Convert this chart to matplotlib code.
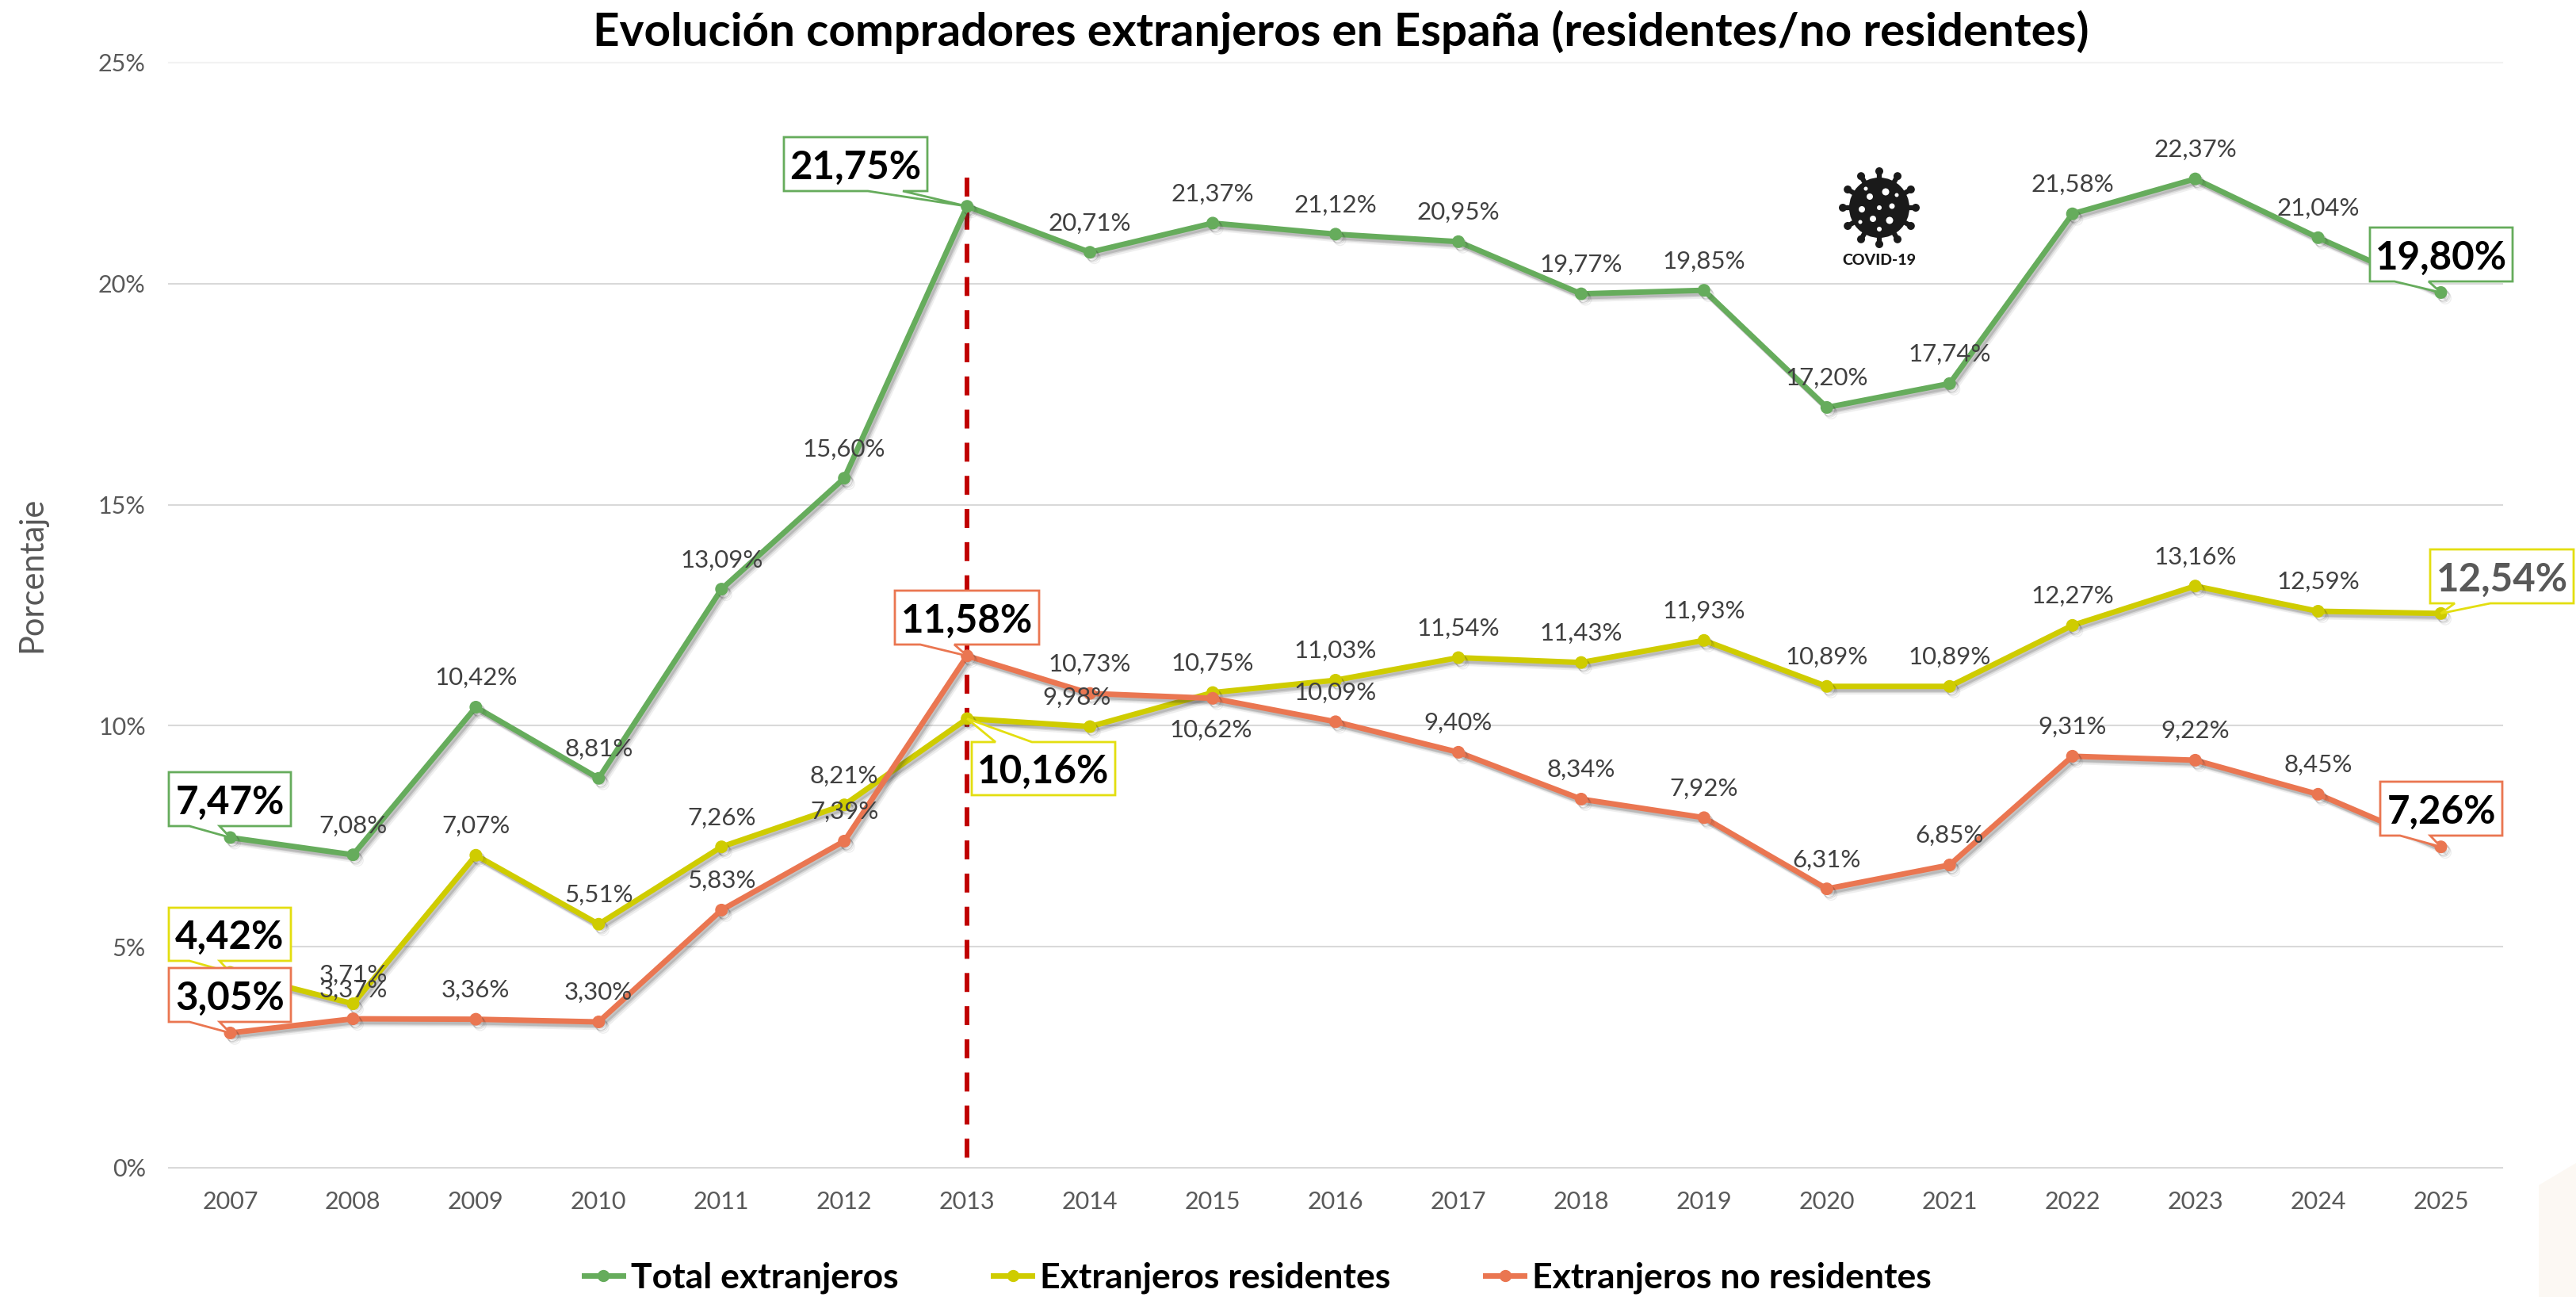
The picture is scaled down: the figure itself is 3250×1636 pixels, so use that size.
import numpy as np
import matplotlib
matplotlib.use("Agg")
from matplotlib import pyplot as plt
from matplotlib import patheffects as pe
from matplotlib.lines import Line2D
from matplotlib.patches import Polygon, Circle
from matplotlib.transforms import Affine2D

plt.rcParams['font.family'] = ['Lato', 'DejaVu Sans']

years = [2007, 2008, 2009, 2010, 2011, 2012, 2013, 2014, 2015, 2016,
         2017, 2018, 2019, 2020, 2021, 2022, 2023, 2024, 2025]
total = [7.47, 7.08, 10.42, 8.81, 13.09, 15.60, 21.75, 20.71, 21.37, 21.12,
         20.95, 19.77, 19.85, 17.20, 17.74, 21.58, 22.37, 21.04, 19.80]
residentes = [4.42, 3.71, 7.07, 5.51, 7.26, 8.21, 10.16, 9.98, 10.75, 11.03,
              11.54, 11.43, 11.93, 10.89, 10.89, 12.27, 13.16, 12.59, 12.54]
no_residentes = [3.05, 3.37, 3.36, 3.30, 5.83, 7.39, 11.58, 10.73, 10.62, 10.09,
                 9.40, 8.34, 7.92, 6.31, 6.85, 9.31, 9.22, 8.45, 7.26]
y_ticks = [0, 5, 10, 15, 20, 25]

VERDE = '#66AC5C'
AMARILLO = '#CFCC00'
NARANJA = '#EA7651'
BORDE_AM = '#E3DE10'
GRIS = '#595959'

W, H = 3250, 1636
fig = plt.figure(figsize=(W / 100, H / 100), dpi=100, facecolor='white')
ax = fig.add_axes([213 / W, 1 - 1473 / H, (3157 - 213) / W, (1473 - 79) / H])
ax.set_xlim(-0.5, 18.5)
ax.set_ylim(0, 25)
x = np.arange(len(years))

# coordenadas en pixeles con origen arriba a la izquierda
px = Affine2D().scale(1, -1).translate(0, H)

for s in ax.spines.values():
    s.set_visible(False)
ax.tick_params(length=0, labelsize=22, labelcolor=GRIS)
ax.tick_params(axis='y', pad=21)
ax.tick_params(axis='x', pad=21)
ax.set_xticks(x, [str(a) for a in years])
ax.set_yticks(y_ticks, [f'{v}%' for v in y_ticks])
for v in y_ticks:
    ax.axhline(v, color='#F2F2F2' if v == 25 else '#D9D9D9', lw=1.5, zorder=1, clip_on=False)

ax.plot([6, 6], [22.4, 0], color='#C00000', lw=4.3, dashes=(4, 3),
        dash_capstyle='butt', zorder=2)

# tres capas para imitar la sombra difuminada
sombra = [pe.SimpleLineShadow(offset=(2, -2.5), shadow_color='#333333', alpha=0.18),
          pe.SimpleLineShadow(offset=(3, -3.5), shadow_color='#333333', alpha=0.12),
          pe.SimpleLineShadow(offset=(4, -5), shadow_color='#333333', alpha=0.08),
          pe.Normal()]
series = [(total, VERDE), (residentes, AMARILLO), (no_residentes, NARANJA)]
for vals, col in series:
    ax.plot(x, vals, color=col, lw=5, marker='o', ms=10.5, mec=col, zorder=4,
            solid_joinstyle='round', path_effects=sombra)

# etiquetas normales, encima del punto salvo los casos raros
for vals, col in series:
    for i, v in enumerate(vals):
        if i in (0, 6, 18):
            continue
        dx, dy = 0, 26.5
        if vals is no_residentes and i == 8:
            dx, dy = -2, -29
        if vals is residentes and i == 7:
            dx = -12
        ax.annotate(f'{v:.2f}%'.replace('.', ','), (i, v), xytext=(dx, dy),
                    textcoords='offset points', ha='center', va='center',
                    fontsize=22.5, color='#404040', zorder=6)


def callout(vals, i, box, tail, col, txt_col='black'):
    tx, ty = ax.transData.transform((i, vals[i]))
    ty = H - ty
    l, t, r, b = box
    if ty > b:
        pts = [(l, t), (r, t), (r, b), (tail[1], b), (tx, ty), (tail[0], b), (l, b)]
    else:
        pts = [(l, t), (tail[0], t), (tx, ty), (tail[1], t), (r, t), (r, b), (l, b)]
    fig.add_artist(Polygon(pts, closed=True, fc='white', ec=col, lw=2, transform=px, zorder=5))
    fig.text((l + r) / 2 / W, 1 - ((t + b) / 2 + 4) / H, f'{vals[i]:.2f}%'.replace('.', ','),
             ha='center', va='center', fontsize=35.5, fontweight='bold', color=txt_col, zorder=6)


callout(total, 0, (213, 974, 367, 1042), (239, 277), VERDE)
callout(residentes, 0, (213, 1145, 367, 1212), (239, 277), BORDE_AM)
callout(no_residentes, 0, (213, 1221, 367, 1289), (239, 277), NARANJA)
callout(total, 6, (989, 173, 1170, 241), (1095, 1139), VERDE)
callout(no_residentes, 6, (1129, 745, 1311, 813), (1161, 1204), NARANJA)
callout(residentes, 6, (1226, 936, 1407, 1003), (1256, 1302), BORDE_AM)
callout(total, 18, (2990, 287, 3170, 355), (3021, 3064), VERDE)
callout(residentes, 18, (3066, 693, 3247, 761), (3097, 3142), BORDE_AM, GRIS)
callout(no_residentes, 18, (3003, 986, 3157, 1054), (3028, 3066), NARANJA)

# icono covid
cx, cy = 2371, 262
ICONO = '#1A1A1A'
for ang in np.linspace(0, 2 * np.pi, 12, endpoint=False):
    c, s = np.cos(ang + np.pi / 2), np.sin(ang + np.pi / 2)
    fig.add_artist(Line2D([cx + 30 * c, cx + 46 * c], [cy + 30 * s, cy + 46 * s], color=ICONO,
                          lw=4.5, transform=px, zorder=3))
    fig.add_artist(Circle((cx + 46 * c, cy + 46 * s), 5, fc=ICONO, ec='none', transform=px, zorder=3))
fig.add_artist(Circle((cx, cy), 38, fc=ICONO, ec='none', transform=px, zorder=3))
for ox, oy, r in [(0, 0, 3), (-12, -14, 4), (8, -20, 4.5), (-22, 2, 4), (16, -2, 3.5),
                  (-8, 14, 4), (13, 16, 4.5), (-17, -24, 2.5), (22, -16, 2.5), (0, 27, 3), (-24, 18, 2.5)]:
    fig.add_artist(Circle((cx + ox, cy + oy), r, fc='white', ec='none', transform=px, zorder=3))
fig.text(cx / W, 1 - 328 / H, 'COVID-19', ha='center', va='center', fontsize=14,
         fontweight='black', color=ICONO)

fig.text(1692 / W, 1 - 40 / H, 'Evolución compradores extranjeros en España (residentes/no residentes)',
         ha='center', va='center', fontsize=42, fontweight='bold', color='black')
fig.text(40 / W, 1 - 725 / H, 'Porcentaje', rotation=90, ha='center', va='center', fontsize=30, color=GRIS)

handles = [Line2D([], [], color=c, lw=5, marker='o', ms=10) for c in (VERDE, AMARILLO, NARANJA)]
fig.legend(handles, ['Total extranjeros', 'Extranjeros residentes', 'Extranjeros no residentes'],
           loc='center', bbox_to_anchor=(1587 / W, 1 - 1612 / H), ncol=3, frameon=False,
           prop={'size': 32, 'weight': 'bold'}, handlelength=1.09, handletextpad=0.23,
           columnspacing=2.7, borderpad=0)

# mancha clara de la esquina
fig.add_artist(Polygon([(3203, 1495), (3250, 1467), (3250, 1636), (3203, 1636)], closed=True,
                       fc='#FCF8F3', ec='none', transform=px, zorder=0.5))

fig.savefig('out.png', dpi=100)
